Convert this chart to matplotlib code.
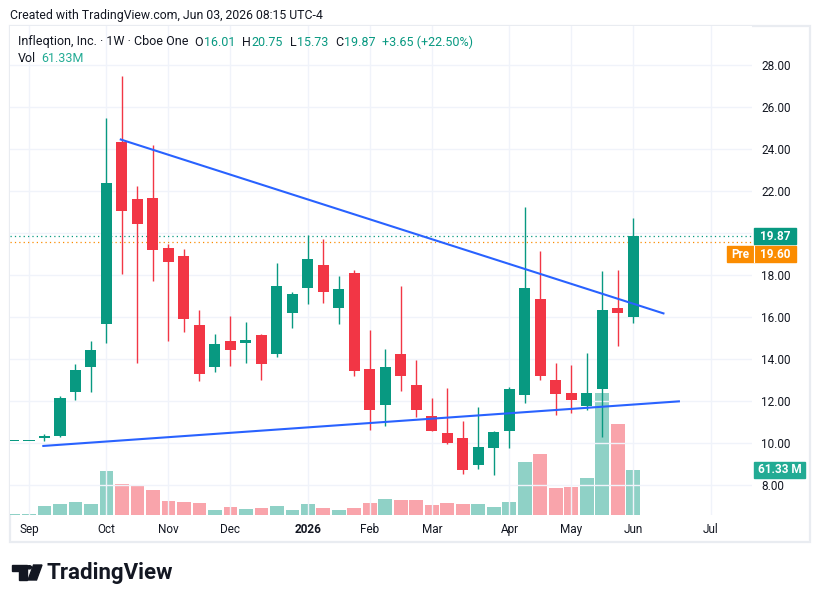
"""Weekly candlestick chart for Infleqtion, styled like a TradingView snapshot."""

import matplotlib
matplotlib.use("Agg")
import matplotlib.pyplot as plt
import matplotlib.dates as mdates
from matplotlib.patches import Rectangle, Polygon, Circle
from matplotlib.transforms import blended_transform_factory
import pandas as pd

plt.rcParams["font.family"] = ["Roboto", "DejaVu Sans"]

# Data (weekly bars)
weeks = pd.date_range("2025-08-25", periods=41, freq="W-MON")
opens = [10.10, 10.10, 10.28, 10.36, 12.47, 13.66, 15.70, 24.36, 21.64, 21.69,
         19.31, 18.93, 15.64, 13.66, 14.88, 14.80, 15.17, 14.28, 16.21, 17.42,
         18.50, 16.47, 18.12, 13.55, 11.85, 14.26, 12.79, 11.31, 10.50, 10.26,
         8.99, 9.80, 10.61, 12.32, 16.88, 13.02, 12.40, 11.80, 12.61, 16.45,
         16.01]
highs = [10.10, 10.10, 10.45, 12.26, 13.79, 14.88, 25.50, 27.51, 22.26, 24.21,
         19.50, 19.26, 16.36, 15.21, 16.07, 15.79, 15.21, 18.60, 17.21, 19.93,
         19.74, 17.98, 18.26, 15.40, 14.50, 17.50, 13.98, 12.17, 12.64, 11.07,
         11.74, 10.60, 12.70, 21.26, 19.17, 13.83, 13.74, 14.31, 18.21, 18.26,
         20.75]
lows = [10.10, 10.10, 10.13, 10.33, 12.09, 12.47, 14.80, 18.09, 13.85, 17.75,
        14.90, 15.32, 12.99, 13.42, 13.70, 13.85, 13.04, 14.13, 15.51, 16.66,
        16.71, 15.70, 13.23, 10.66, 10.85, 12.51, 11.28, 10.61, 9.99, 8.56,
        8.80, 8.51, 9.80, 11.94, 13.04, 11.37, 11.47, 11.61, 10.32, 14.66,
        15.73]
closes = [10.10, 10.10, 10.36, 12.17, 13.50, 14.45, 22.40, 21.09, 20.47, 19.23,
          18.66, 15.94, 13.32, 14.74, 14.47, 14.93, 13.80, 17.50, 17.12, 18.79,
          17.23, 17.36, 13.47, 11.61, 13.64, 13.23, 11.61, 10.61, 10.04, 8.75,
          9.83, 10.55, 12.58, 17.40, 13.23, 12.37, 12.09, 12.40, 16.36, 16.22,
          19.87]
volumes = [1.2, 1.2, 12.3, 15.0, 17.7, 15.0, 60.0, 42.3, 40.9, 34.1,
           19.1, 17.7, 16.4, 6.8, 10.9, 8.2, 9.5, 12.3, 6.8, 15.0,
           9.5, 6.8, 9.5, 16.4, 21.8, 20.4, 20.4, 13.6, 16.4, 15.0,
           15.0, 10.9, 17.7, 72.2, 83.1, 36.8, 38.2, 50.4, 166.3, 124.0,
           61.33]
premarket = 19.60

# Trend lines drawn on the chart
upper_dates = ["2025-10-12", "2026-06-15"]
upper_prices = [24.49, 16.18]
lower_dates = ["2025-09-07", "2026-06-22"]
lower_prices = [9.88, 12.01]

month_dates = ["2025-09-01", "2025-10-06", "2025-11-03", "2025-12-01", "2026-01-05",
               "2026-02-02", "2026-03-02", "2026-04-06", "2026-05-04", "2026-06-01",
               "2026-07-06"]
month_labels = ["Sep", "Oct", "Nov", "Dec", "2026", "Feb", "Mar", "Apr", "May", "Jun", "Jul"]
price_ticks = [8, 10, 12, 14, 16, 18, 20, 22, 24, 26, 28]

# Colours
UP = "#089981"
DOWN = "#F23645"
TEXT = "#131722"
GRID = "#f0f3fa"
TREND = "#2962FF"
PRE = "#fb8c00"
VOLTEAL = "#22ab94"

W, H = 821, 603


def fx(px):
    return px / W


def fy(py):
    return 1 - py / H


fig = plt.figure(figsize=(W / 100, H / 100), dpi=100)
fig.patch.set_facecolor("white")

# Pane geometry in pixels
L, R, T, B = 10, 751.7, 26, 515
rect = [fx(L), fy(B), fx(R) - fx(L), fy(T) - fy(B)]
axv = fig.add_axes(rect)                 # volume, underneath
ax = fig.add_axes(rect, sharex=axv)      # price, on top
ax.set_zorder(2)
axv.set_zorder(1)
ax.patch.set_visible(False)

x = mdates.date2num(weeks)
x0 = x[0]
ax.set_xlim(x0 - 0.226 * 7, x0 + 47.63 * 7)
ax.set_ylim(6.595, 29.88)
axv.set_ylim(0, 664)

# Volume
up = [c >= o for o, c in zip(opens, closes)]
vol_colors = [(UP if u else DOWN) for u in up]
axv.bar(x, volumes, width=6.3, color=vol_colors, alpha=0.45, linewidth=0)

# Candles
cols = [(UP if u else DOWN) for u in up]
ax.vlines(x, lows, highs, colors=cols, linewidth=1.0, zorder=3)
bottoms = [min(o, c) for o, c in zip(opens, closes)]
heights = [max(abs(c - o), 0.06) for o, c in zip(opens, closes)]
ax.bar(x, heights, bottom=bottoms, width=4.97, color=cols, linewidth=0, zorder=4)

# Trend lines
ax.plot(mdates.date2num(pd.to_datetime(upper_dates)), upper_prices,
        color=TREND, lw=1.5, zorder=5, solid_capstyle="butt")
ax.plot(mdates.date2num(pd.to_datetime(lower_dates)), lower_prices,
        color=TREND, lw=1.5, zorder=5, solid_capstyle="butt")

# Last price and pre-market lines
ax.axhline(closes[-1], color=UP, lw=0.9, ls=(0, (1, 2.5)), zorder=2)
ax.axhline(premarket, color=PRE, lw=0.9, ls=(0, (1, 2.5)), zorder=2)

# Grid and axes
ax.set_yticks(price_ticks)
ax.set_yticklabels([f"{t:.2f}" for t in price_ticks])
ax.yaxis.tick_right()
ax.set_xticks(mdates.date2num(pd.to_datetime(month_dates)))
ax.set_xticklabels(month_labels)
ax.get_xticklabels()[4].set_fontweight("bold")
ax.grid(True, color=GRID, lw=1, zorder=0)
ax.tick_params(axis="y", length=0, pad=6.7, labelsize=8.5, labelcolor=TEXT)
ax.tick_params(axis="x", length=0, pad=6, labelsize=8.5, labelcolor=TEXT)
axv.tick_params(axis="x", length=0, labelbottom=False)
axv.set_yticks([])
for a in (ax, axv):
    for s in a.spines.values():
        s.set_visible(False)

# Price labels on the right scale
ptrans = blended_transform_factory(ax.transAxes, ax.transData)
box_h = 16 / 21.0


def frac(px):
    return (px - L) / (R - L)


ax.add_patch(Rectangle((frac(754), closes[-1] - box_h / 2), frac(796) - frac(754), box_h,
                       transform=ptrans, color=UP, clip_on=False, zorder=6))
ax.text(frac(775), closes[-1], f"{closes[-1]:.2f}", transform=ptrans, color="white",
        fontsize=8.5, fontweight="bold", ha="center", va="center", zorder=7)
pre_y = closes[-1] - 18 / 21.0
ax.add_patch(Rectangle((frac(727), pre_y - box_h / 2), frac(796) - frac(727), box_h,
                       transform=ptrans, color=PRE, clip_on=False, zorder=6))
ax.plot([frac(753.5), frac(753.5)], [pre_y - box_h / 2, pre_y + box_h / 2], transform=ptrans,
        color="white", lw=0.8, clip_on=False, zorder=7)
ax.text(frac(740), pre_y, "Pre", transform=ptrans, color="white",
        fontsize=8.5, fontweight="bold", ha="center", va="center", zorder=7)
ax.text(frac(775), pre_y, f"{premarket:.2f}", transform=ptrans, color="white",
        fontsize=8.5, fontweight="bold", ha="center", va="center", zorder=7)

vtrans = blended_transform_factory(axv.transAxes, axv.transData)
vbox_h = 16 * 664 / (B - T)
axv.add_patch(Rectangle((frac(754), volumes[-1] - vbox_h / 2), frac(805) - frac(754), vbox_h,
                        transform=vtrans, color=VOLTEAL, clip_on=False, zorder=6))
axv.text(frac(779.5), volumes[-1], f"{volumes[-1]:.2f} M", transform=vtrans, color="white",
         fontsize=8.5, fontweight="bold", ha="center", va="center", zorder=7)

# Outer pane border
fig.patches.append(Rectangle((fx(10), fy(542)), fx(810) - fx(10), fy(26) - fy(542),
                             transform=fig.transFigure, fill=False, edgecolor="#e9ecf1",
                             lw=1.6, zorder=0))

# Header texts
fig.text(fx(10), fy(15.5), "Created with TradingView.com, Jun 03, 2026 08:15 UTC-4",
         fontsize=8.8, color=TEXT, va="center")
hy = fy(42)
renderer = fig.canvas.get_renderer()
change = closes[-1] - closes[-2]
pct = change / closes[-2] * 100
# (text, colour, gap in px before it)
pieces = [("Infleqtion, Inc. \u00b7 1W \u00b7 Cboe One", TEXT, 0),
          ("O", TEXT, 6), (f"{opens[-1]:.2f}", UP, 0.5),
          ("H", TEXT, 7), (f"{highs[-1]:.2f}", UP, 0.5),
          ("L", TEXT, 7), (f"{lows[-1]:.2f}", UP, 0.5),
          ("C", TEXT, 7), (f"{closes[-1]:.2f}", UP, 0.5),
          (f"+{change:.2f} (+{pct:.2f}%)", UP, 7)]
cur = 18.0
for s, c, gap in pieces:
    cur += gap
    t = fig.text(fx(cur), hy, s, fontsize=9.0, color=c, va="center")
    cur += t.get_window_extent(renderer).width
fig.text(fx(18), fy(58.5), "Vol", fontsize=9.0, color=TEXT, va="center")
fig.text(fx(41.5), fy(58.5), f"{volumes[-1]:.2f}M", fontsize=9.0, color=VOLTEAL, va="center")


# TradingView logo
def pxpoly(pts):
    return [(fx(a), fy(b)) for a, b in pts]


fig.patches.append(Polygon(pxpoly([(12, 565), (26.5, 565), (26.5, 580), (19, 580), (19, 571), (12, 571)]),
                           closed=True, transform=fig.transFigure, color=TEXT))
fig.patches.append(Circle((fx(29.3), fy(567.3)), 2.2 / W, transform=fig.transFigure, color=TEXT))
fig.patches.append(Polygon(pxpoly([(33.5, 565), (42, 565), (36.5, 580), (28, 580)]),
                           closed=True, transform=fig.transFigure, color=TEXT))
fig.text(fx(46), fy(572.5), "TradingView", fontsize=16, fontweight="bold", color=TEXT, va="center")

fig.savefig("out.png", dpi=100, facecolor="white")
